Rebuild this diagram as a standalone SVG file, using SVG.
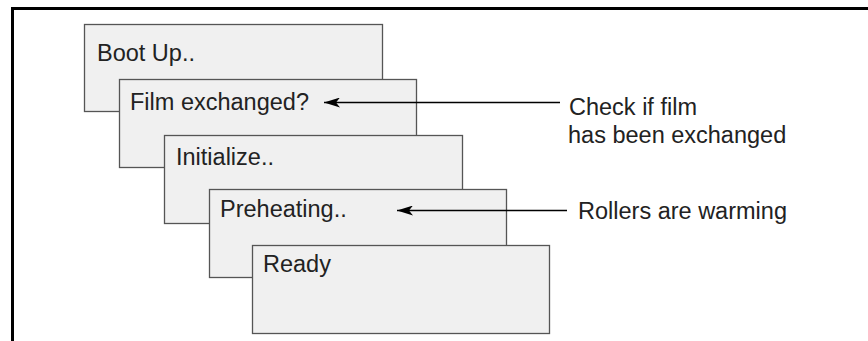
<svg xmlns="http://www.w3.org/2000/svg" width="868" height="341" viewBox="0 0 868 341">
<style>
.box{fill:#f0f0f0;stroke:#555;stroke-width:1.3}
.t{font-family:"Liberation Sans",Arial,sans-serif;font-size:23.5px;fill:#222}
.c{stroke:#000;stroke-width:1.5;fill:none}
</style>
<defs>
<marker id="ah" viewBox="0 0 16 10" refX="16" refY="5" markerWidth="16" markerHeight="10" markerUnits="userSpaceOnUse" orient="auto">
<path d="M16,5 L0,0 L4,5 L0,10 Z" fill="#000"/>
</marker>
</defs>
<rect width="868" height="341" fill="#fff"/>
<path d="M12.5,341 V8.5 H868" fill="none" stroke="#000" stroke-width="3"/>
<g id="boot"><rect class="box" x="84.5" y="24.5" width="298" height="87"/><text class="t" x="97" y="61">Boot Up..</text></g>
<g id="film"><rect class="box" x="119.5" y="79.5" width="297" height="88"/><text class="t" x="130" y="110">Film exchanged?</text></g>
<g id="init"><rect class="box" x="164.5" y="135.5" width="298" height="88"/><text class="t" x="176" y="165">Initialize..</text></g>
<g id="preheat"><rect class="box" x="209.5" y="189.5" width="297" height="88"/><text class="t" x="220" y="217">Preheating..</text></g>
<g id="ready"><rect class="box" x="252.5" y="245.5" width="297" height="88"/><text class="t" x="263" y="272">Ready</text></g>
<g id="note1"><text class="t" x="569" y="115">Check if film</text><text class="t" x="568" y="143">has been exchanged</text></g>
<g id="note2"><text class="t" x="578" y="219">Rollers are warming</text></g>
<g id="connectors">
<path class="c" d="M560,102.5 H324"  marker-end="url(#ah)"/>
<path class="c" d="M567,210.5 H397" marker-end="url(#ah)"/>
</g>
</svg>
